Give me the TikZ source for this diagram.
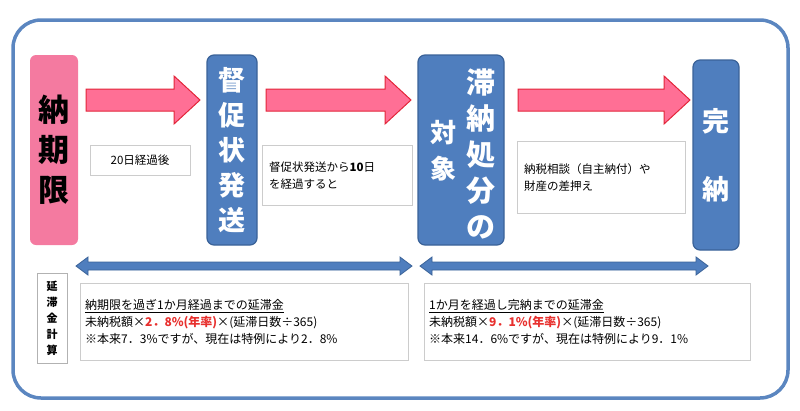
\documentclass[tikz,border=0pt]{standalone}
\usepackage{fontspec}
\setmainfont{Noto Sans CJK JP}
\usetikzlibrary{positioning}
\definecolor{frameblue}{HTML}{5B86C0}
\definecolor{boxblue}{HTML}{4F7EBE}
\definecolor{boxline}{HTML}{3A6298}
\definecolor{arrpink}{HTML}{FF6F95}
\definecolor{arrred}{HTML}{E3263A}
\definecolor{limitpink}{HTML}{F47AA0}
\definecolor{txtred}{HTML}{E8302E}
\tikzset{
  stagebox/.style={fill=boxblue, draw=boxline, line width=1.2pt, rounded corners=7pt, text=white, font=\bfseries, align=center, inner sep=0pt},
  notebox/.style={draw=black!20, fill=white, align=left, font=\fontsize{11.5}{17}\selectfont, inner sep=7pt, anchor=north west},
}
\newcommand{\fatarrow}[3]{% x-start, x-end, y-centre
  \draw[fill=arrpink, draw=arrred, line width=1pt]
    (#1,#3-11) -- (#2-26,#3-11) -- (#2-26,#3-24) -- (#2,#3) -- (#2-26,#3+24)
    -- (#2-26,#3+11) -- (#1,#3+11) -- cycle;}
\newcommand{\spanarrow}[3]{% x-start, x-end, y-centre
  \draw[fill=boxblue, draw=boxline, line width=0.8pt]
    (#1,#3) -- (#1+12,#3-9) -- (#1+12,#3-4) -- (#2-12,#3-4) -- (#2-12,#3-9) -- (#2,#3)
    -- (#2-12,#3+9) -- (#2-12,#3+4) -- (#1+12,#3+4) -- (#1+12,#3+9) -- cycle;}
\begin{document}
\begin{tikzpicture}[x=1pt,y=-1pt]
\useasboundingbox (0,0) rectangle (800,410);
% outer frame
\draw[frameblue, line width=3.5pt, rounded corners=28pt] (13,20) rectangle (788,398);

% stages
\node[fill=limitpink, rounded corners=6pt, minimum width=48pt, minimum height=190pt,
      font=\fontsize{31}{40}\selectfont\bfseries, align=center] (limit) at (54,150) {納\\期\\限};
\node[stagebox, minimum width=50pt, minimum height=190pt,
      font=\fontsize{27}{35}\selectfont\bfseries] (notice) at (232,150) {督\\促\\状\\発\\送};
\node[stagebox, minimum width=86pt, minimum height=190pt] (target) at (461,150) {};
\node[text=white, font=\fontsize{29}{36}\selectfont\bfseries, align=center] (targetA) at (481,154) {滞\\納\\処\\分\\の};
\node[text=white, font=\fontsize{26}{36}\selectfont\bfseries, align=center] (targetB) at (443,151) {対\\象};
\node[stagebox, minimum width=46pt, minimum height=190pt,
      font=\fontsize{27}{68}\selectfont\bfseries] (done) at (716,155) {完\\納};

% fat arrows
\fatarrow{86}{200}{100}
\fatarrow{266}{411}{100}
\fatarrow{518}{690}{100}

% notes under arrows
\node[notebox, align=center, minimum width=100pt, minimum height=30pt, anchor=center] (n1) at (140,160) {20日経過後};
\node[notebox, text width=136pt, minimum height=60pt] (n2) at (262,145) {督促状発送から\textbf{10}日\\を経過すると};
\node[notebox, text width=154pt, minimum height=72pt, inner ysep=22pt] (n3) at (517,141) {納税相談（自主納付）や\\財産の差押え};

% span arrows
\spanarrow{76}{412}{266}
\spanarrow{420}{708}{266}

% penalty calculation
\node[draw=black!30, fill=white, font=\fontsize{11}{16}\selectfont\bfseries, align=center,
      minimum width=30pt, minimum height=90pt, inner sep=1pt] (calc) at (52,318) {延\\滞\\金\\計\\算};
\node[notebox, text width=318pt, minimum height=77pt, font=\fontsize{12}{17}\selectfont,
      inner xsep=5pt, inner ysep=10pt] (p1) at (80,283) {\underline{納期限を過ぎ1か月経過までの延滞金}\\
  未納税額×{\color{txtred}\bfseries 2．8\%(年率)}×(延滞日数÷365)\\
  ※本来7．3\%ですが、現在は特例により2．8\%};
\node[notebox, text width=316pt, minimum height=77pt, font=\fontsize{12}{17}\selectfont,
      inner xsep=5pt, inner ysep=10pt] (p2) at (424,283) {\underline{1か月を経過し完納までの延滞金}\\
  未納税額×{\color{txtred}\bfseries 9．1\%(年率)}×(延滞日数÷365)\\
  ※本来14．6\%ですが、現在は特例により9．1\%};
\end{tikzpicture}
\end{document}
